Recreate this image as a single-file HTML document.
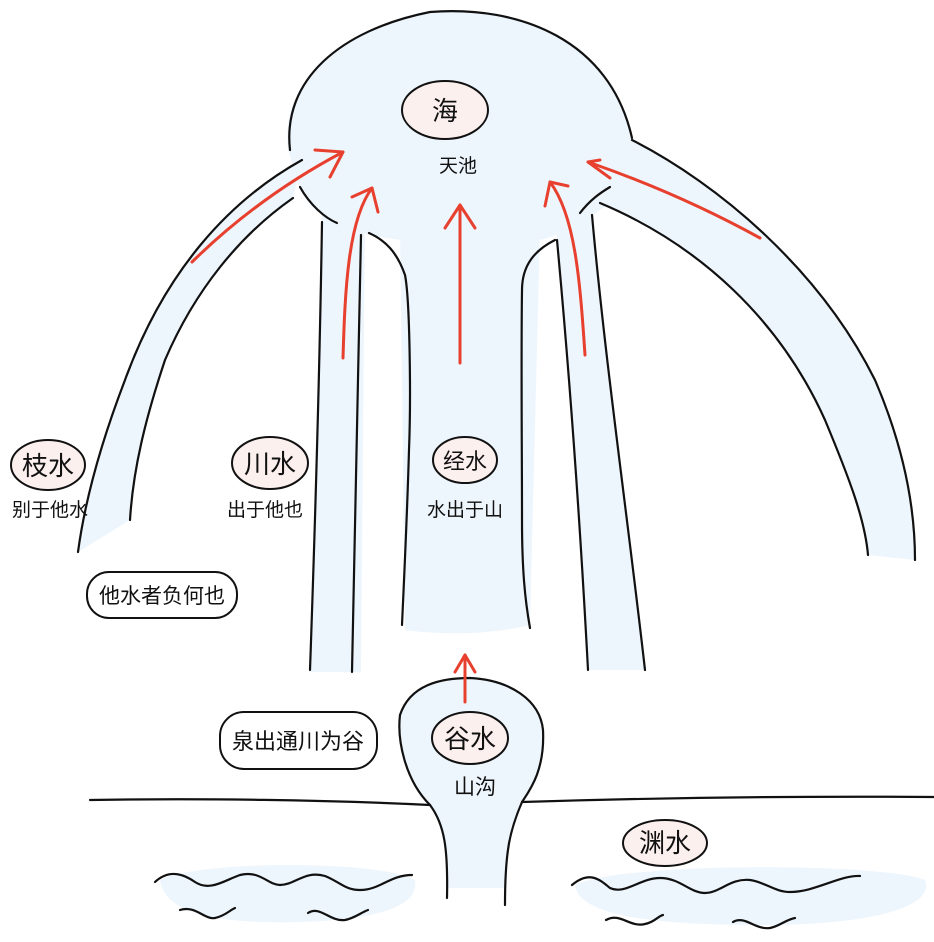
<!DOCTYPE html>
<html><head><meta charset="utf-8"><style>
html,body{margin:0;padding:0;background:#fff;}
svg{display:block;}
text{font-family:"Liberation Sans","Noto Sans CJK SC",sans-serif;fill:#111;}
</style></head><body>
<svg width="934" height="942" viewBox="0 0 934 942" xmlns="http://www.w3.org/2000/svg">
<g fill="#eef6fd" stroke="none">
  <path d="M288,150 C280,80 340,30 430,12 C520,5 610,40 632,135 C640,180 615,200 600,210 C580,225 560,235 540,240 L400,240 C360,235 320,225 300,190 Z"/>
  <path d="M302,160 C230,200 165,270 125,380 C102,440 85,500 78,552 L130,520 C133,470 145,420 165,360 C195,290 240,235 293,198 Z"/>
  <path d="M322,215 L365,215 L361,672 L310,672 Z"/>
  <path d="M400,230 L540,230 L530,625 C490,635 440,635 405,630 Z"/>
  <path d="M557,230 L592,210 C605,360 628,520 645,670 L588,670 C580,520 570,380 557,240 Z"/>
  <path d="M600,203 C700,245 780,320 825,420 C850,480 865,520 868,555 L915,560 C915,510 905,450 875,380 C820,270 720,185 632,140 Z"/>
  <path d="M430,805 C405,780 397,740 400,715 C410,685 440,678 470,678 C510,680 540,700 543,730 C545,770 530,790 522,802 C510,830 505,850 505,888 L447,888 C447,850 445,825 430,805 Z"/>
  <path d="M160,880 C200,860 380,860 415,880 C420,905 380,920 300,922 C220,924 165,915 160,880 Z"/>
  <path d="M575,885 C620,862 880,862 925,880 C935,905 880,925 760,925 C650,925 578,915 575,885 Z"/>
</g>
<g fill="none" stroke="#111" stroke-width="2.2" stroke-linecap="round">
  <path d="M290,150 C282,80 340,30 430,12 C520,5 610,40 632,138"/>
  <path d="M300,187 C310,205 325,218 337,223"/>
  <path d="M580,213 C590,200 600,193 610,187"/>
  <path d="M302,160 C230,200 165,270 125,380 C102,440 85,500 78,552"/>
  <path d="M293,198 C240,235 195,290 165,360 C145,420 133,470 130,520"/>
  <path d="M322,222 C320,350 316,500 310,670"/>
  <path d="M361,235 C358,380 355,520 352,672"/>
  <path d="M369,233 C385,240 397,252 405,275 C410,300 411,400 409,450 C407,520 404,580 402,625"/>
  <path d="M555,240 C535,250 522,265 522,290 C521,360 522,450 522,520 C522,570 525,600 530,628"/>
  <path d="M557,240 C570,380 580,520 588,670"/>
  <path d="M592,215 C605,360 628,520 645,670"/>
  <path d="M600,203 C700,245 780,320 825,420 C850,480 865,520 868,555"/>
  <path d="M632,140 C720,185 820,270 875,380 C905,450 915,510 915,560"/>
  <path d="M430,805 C405,780 397,740 400,715 C410,685 440,678 470,678 C510,680 540,700 543,730 C545,770 530,790 522,802 C510,830 505,850 505,905"/>
  <path d="M430,805 C445,825 448,850 447,898"/>
  <path d="M90,800 C200,798 330,800 430,805"/>
  <path d="M522,802 C650,798 800,796 934,797"/>
  <path d="M155,882 C170,868 185,875 195,882 C210,892 225,880 240,875 C260,870 268,885 280,885 C295,885 305,870 325,876 C340,882 345,890 360,890 C380,890 390,875 412,875"/>
  <path d="M180,910 C195,905 205,920 215,918 C225,916 230,910 235,908"/>
  <path d="M308,913 C320,905 330,922 345,920 C355,918 360,913 368,910"/>
  <path d="M572,885 C590,870 600,880 610,888 C625,895 640,878 660,878 C680,878 690,893 705,893 C720,893 730,878 750,880 C765,882 775,892 790,892 C815,892 840,875 860,876"/>
  <path d="M606,920 C620,912 630,928 645,924 C655,922 658,916 663,915"/>
  <path d="M733,922 C745,915 755,930 770,928 C780,926 785,920 795,918"/>
</g>
<g stroke="#111" stroke-width="2" fill="#fcf0ee">
  <ellipse cx="445" cy="110" rx="43" ry="29"/>
  <ellipse cx="48" cy="465" rx="37" ry="25"/>
  <ellipse cx="270" cy="463" rx="38" ry="26"/>
  <ellipse cx="465" cy="460" rx="32" ry="23"/>
  <ellipse cx="470" cy="738" rx="38" ry="26"/>
  <ellipse cx="665" cy="843" rx="42" ry="23"/>
  <rect x="87" y="572" width="150" height="46" rx="22" fill="#fff"/>
  <rect x="220" y="712" width="157" height="57" rx="24" fill="#fff"/>
</g>
<g font-size="26" text-anchor="middle">
  <text x="445" y="120">海</text>
  <text x="48" y="475">枝水</text>
  <text x="270" y="473">川水</text>
  <text x="465" y="469" font-size="22">经水</text>
  <text x="470" y="748">谷水</text>
  <text x="665" y="852">渊水</text>
</g>
<g font-size="19" text-anchor="middle">
  <text x="458" y="172">天池</text>
  <text x="50" y="516">别于他水</text>
  <text x="265" y="516">出于他也</text>
  <text x="465" y="516">水出于山</text>
  <text x="475" y="794" font-size="21">山沟</text>
  <text x="162" y="603" font-size="21">他水者负何也</text>
  <text x="298" y="749" font-size="22">泉出通川为谷</text>
</g>
<g fill="none" stroke="#e8402e" stroke-width="3" stroke-linecap="round" stroke-linejoin="round">
  <path d="M192,262 C240,215 290,180 343,152"/>
  <path d="M315,150 L343,152 L330,177"/>
  <path d="M343,358 C345,290 348,220 372,188"/>
  <path d="M352,197 L372,188 L378,212"/>
  <path d="M460,363 L460,205"/>
  <path d="M445,228 L460,205 L475,228"/>
  <path d="M585,355 C580,280 575,215 550,182"/>
  <path d="M545,206 L550,182 L568,186"/>
  <path d="M760,238 C700,205 640,180 588,162"/>
  <path d="M600,160 L588,162 L610,178"/>
  <path d="M465,702 L465,655"/>
  <path d="M455,672 L465,655 L475,672"/>
</g>
</svg>
</body></html>
